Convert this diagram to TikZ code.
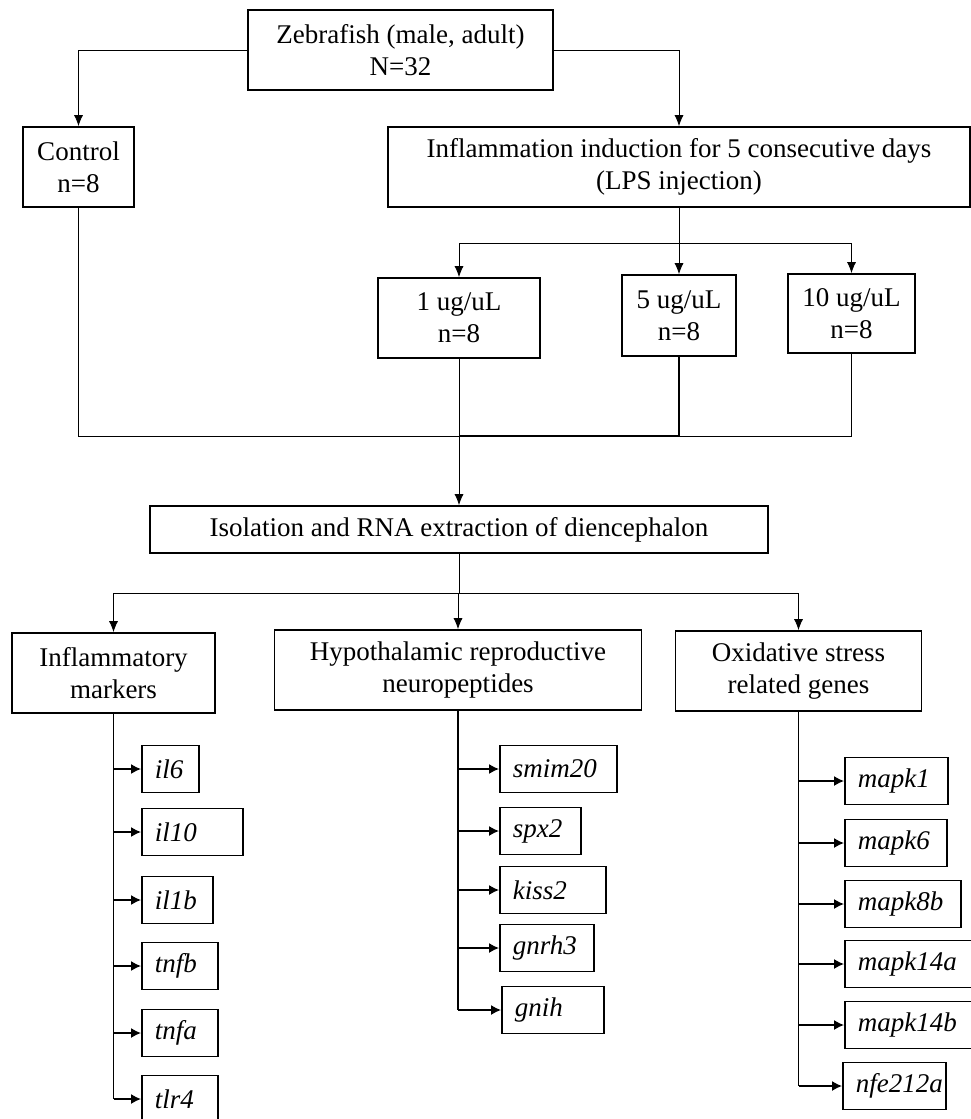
\documentclass[tikz,border=0pt]{standalone}
\usepackage{fontspec}
\setmainfont{Liberation Serif}
\usepackage{tikz}
\usetikzlibrary{arrows.meta}

\begin{document}
\begin{tikzpicture}[x=1pt,y=-1pt,
  font=\fontsize{27}{32}\selectfont,
  box/.style={draw, line width=1.6pt, align=center, inner sep=0pt},
  gene/.style={draw, line width=1.6pt, anchor=west, align=left, inner xsep=13pt, minimum height=47pt, font=\fontsize{27}{32}\selectfont\itshape},
  arr/.style={line width=0.9pt, -{Latex[length=11pt,width=9pt]}},
  garr/.style={line width=1.4pt, -{Latex[length=10pt,width=10pt]}},
  lin/.style={line width=0.9pt},
  glin/.style={line width=1.4pt}]
\useasboundingbox (0,0) rectangle (971,1119);
\node [box, minimum width=305pt, minimum height=80pt] (zebra) at (400.5,50) {Zebrafish (male, adult)\\N=32};
\node [box, minimum width=111pt, minimum height=80pt] (control) at (78.5,167) {Control\\n=8};
\node [box, minimum width=582pt, minimum height=80pt] (lps) at (679,167) {Inflammation induction for 5 consecutive days\\(LPS injection)};
\node [box, minimum width=162pt, minimum height=80pt] (d1) at (459,318) {1 ug/uL\\n=8};
\node [box, minimum width=114pt, minimum height=81pt] (d5) at (679,315.5) {5 ug/uL\\n=8};
\node [box, minimum width=127pt, minimum height=79pt] (d10) at (851.5,313.5) {10 ug/uL\\n=8};
\node [box, minimum width=618pt, minimum height=47pt] (iso) at (459,529.5) {Isolation and RNA extraction of diencephalon};
\node [box, minimum width=203pt, minimum height=80pt] (infl) at (113.5,673) {Inflammatory\\markers};
\node [box, minimum width=367pt, minimum height=80pt] (hypo) at (458,670) {Hypothalamic reproductive\\neuropeptides};
\node [box, minimum width=246pt, minimum height=80pt] (oxid) at (798.5,671) {Oxidative stress\\related genes};

\node [gene, text width=31pt] (il6) at (141,769) {il6};
\node [gene, text width=75pt] (il10) at (141,832) {il10};
\node [gene, text width=45pt] (il1b) at (141,900) {il1b};
\node [gene, text width=50pt] (tnfb) at (141,966) {tnfb};
\node [gene, text width=50pt] (tnfa) at (141,1033) {tnfa};
\node [gene, text width=50pt] (tlr4) at (141,1099) {tlr4};

\node [gene, text width=91pt] (smim20) at (499,769) {smim20};
\node [gene, text width=55pt] (spx2) at (499,831) {spx2};
\node [gene, text width=80pt] (kiss2) at (499,890) {kiss2};
\node [gene, text width=68pt] (gnrh3) at (499,948) {gnrh3};
\node [gene, text width=76pt] (gnih) at (501,1010) {gnih};

\node [gene, text width=77pt] (mapk1) at (844,781) {mapk1};
\node [gene, text width=76pt] (mapk6) at (844,843) {mapk6};
\node [gene, text width=90pt] (mapk8b) at (844,904) {mapk8b};
\node [gene, text width=101pt] (mapk14a) at (844,964) {mapk14a};
\node [gene, text width=101pt] (mapk14b) at (844,1025) {mapk14b};
\node [gene, text width=77pt] (nfe212a) at (842,1086) {nfe212a};

\coordinate (split) at (679,243);
\coordinate (merge) at (459,436);
\coordinate (branch) at (459,593);

\draw [arr] (zebra.west) -| (control.north);
\draw [arr] (zebra.east) -| (lps.north);
\draw [lin] (lps.south) -- (split);
\draw [arr] (split) -| (d1.north);
\draw [arr] (split) -- (d5.north);
\draw [arr] (split) -| (d10.north);
\draw [lin] (control.south) |- (merge);
\draw [glin] (d5.south) |- (merge);
\draw [lin] (d10.south) |- (d5.south |- merge);
\draw [arr] (d1.south) -- (iso.north);
\draw [lin] (iso.south) -- (branch);
\draw [arr] (branch) -| (infl.north);
\draw [arr] (branch) -| (hypo.north);
\draw [arr] (branch) -| (oxid.north);

\draw [glin] (infl.south) -- (infl.south |- tlr4.west);
\foreach \g in {il6,il10,il1b,tnfb,tnfa,tlr4}
  \draw [garr] (infl.south |- \g.west) -- (\g.west);
\draw [glin] (hypo.south) -- (hypo.south |- gnih.west);
\foreach \g in {smim20,spx2,kiss2,gnrh3,gnih}
  \draw [garr] (hypo.south |- \g.west) -- (\g.west);
\draw [glin] (oxid.south) -- (oxid.south |- nfe212a.west);
\foreach \g in {mapk1,mapk6,mapk8b,mapk14a,mapk14b,nfe212a}
  \draw [garr] (oxid.south |- \g.west) -- (\g.west);
\end{tikzpicture}
\end{document}
